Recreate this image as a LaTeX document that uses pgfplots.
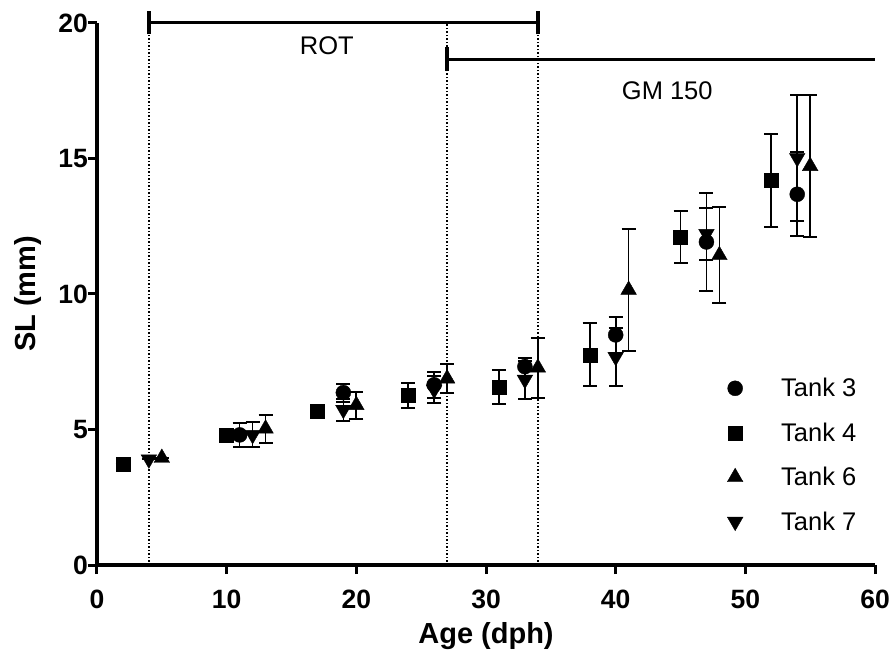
\documentclass[border=0pt]{standalone}
\usepackage{fontspec}
\setmainfont{Liberation Sans}
\usepackage{pgfplots}
\pgfplotsset{compat=1.18}

\pgfplotsset{
  tankerr/.style={
    error bars/.cd, y dir=both, y explicit,
    error bar style={line width=1.7bp, black},
    error mark options={rotate=90, mark size=7bp, line width=2bp, black}},
}

\begin{document}
\begin{tikzpicture}
\begin{axis}[
  scale only axis, width=778bp, height=542bp,
  xmin=0, xmax=60, ymin=0, ymax=20,
  xtick={0,10,...,60}, ytick={0,5,...,20},
  axis x line*=bottom, axis y line*=left,
  axis line style={line width=3.5bp, -},
  tick align=outside, major tick length=9bp,
  tick style={line width=3bp, black},
  /pgf/number format/assume math mode=true,
  ticklabel style={font=\fontsize{26.5bp}{30bp}\selectfont\bfseries, inner sep=0pt},
  xticklabel style={yshift=-16bp},
  xlabel={Age (dph)}, ylabel={SL (mm)},
  label style={font=\fontsize{29bp}{33bp}\selectfont\bfseries, inner sep=0pt},
  xlabel style={at={(axis description cs:0.5,0)}, anchor=north, yshift=-57bp},
  ylabel style={at={(axis description cs:0,0.5)}, anchor=center, yshift=68.5bp},
  legend style={draw=none, fill=none, at={(axis cs:48.6,6.97)}, anchor=north west,
    font=\fontsize{25.5bp}{30bp}\selectfont, row sep=20.5bp, inner sep=0pt},
  legend cell align=left,
  legend image code/.code={\path[draw=none, fill=none] (0bp,0bp) -- (50bp,0bp); \draw[#1] plot coordinates {(6bp,0bp)};},
  clip=false,
]
% Tank 3
\addplot[only marks, black, mark=*, mark size=7.5bp, tankerr] table[x=x, y=y, y error=e] {
x y e
11 4.80 0.45
19 6.36 0.33
26 6.65 0.48
33 7.32 0.33
40 8.49 0.66
47 11.92 1.80
54 13.68 1.55
};
\addlegendentry{Tank 3}
% Tank 4
\addplot[only marks, black, mark=square*, mark size=7bp, tankerr] table[x=x, y=y, y error=e] {
x y e
2 3.71 0
10 4.80 0
17 5.66 0
24 6.27 0.46
31 6.56 0.63
38 7.76 1.17
45 12.10 0.95
52 14.19 1.70
};
\addlegendentry{Tank 4}
% Tank 6
\addplot[only marks, black, mark=triangle*, mark size=9bp, tankerr] table[x=x, y=y, y error=e] {
x y e
5 3.95 0
13 5.03 0.52
20 5.90 0.50
27 6.88 0.55
34 7.28 1.10
41 10.15 2.25
48 11.43 1.78
55 14.72 2.62
};
\addlegendentry{Tank 6}
% Tank 7
\addplot[only marks, black, mark=triangle*, mark size=9bp, mark options={rotate=180}, tankerr] table[x=x, y=y, y error=e] {
x y e
4 3.90 0
12 4.80 0.46
19 5.73 0.40
26 6.47 0.51
33 6.84 0.70
40 7.68 1.06
47 12.22 0.97
54 15.02 2.33
};
\addlegendentry{Tank 7}

% feeding periods
\draw[line width=1.5bp, dash pattern=on 1.5bp off 2bp] (axis cs:4,0) -- (axis cs:4,20);
\draw[line width=1.5bp, dash pattern=on 1.5bp off 2bp] (axis cs:27,0) -- (axis cs:27,20);
\draw[line width=1.5bp, dash pattern=on 1.5bp off 2bp] (axis cs:34,0) -- (axis cs:34,20);
\draw[line width=3bp] (axis cs:4,20) -- (axis cs:34,20);
\draw[line width=4bp] (axis cs:4,20) ++(0,-11.5bp) -- ++(0,23bp);
\draw[line width=4bp] (axis cs:34,20) ++(0,-11.5bp) -- ++(0,23bp);
\draw[line width=3bp] (axis cs:27,18.67) -- (axis cs:60,18.67);
\draw[line width=4bp] (axis cs:27,18.67) ++(0,-12bp) -- ++(0,24bp);
\node[font=\fontsize{25.5bp}{30bp}\selectfont] at (axis cs:17.73,19.15) {ROT};
\node[font=\fontsize{25.5bp}{30bp}\selectfont] at (axis cs:43.98,17.49) {GM 150};
\end{axis}
\pgfresetboundingbox
\path (current axis.south west) ++(-97bp,-91bp) rectangle ++(895bp,656bp);
\end{tikzpicture}
\end{document}
